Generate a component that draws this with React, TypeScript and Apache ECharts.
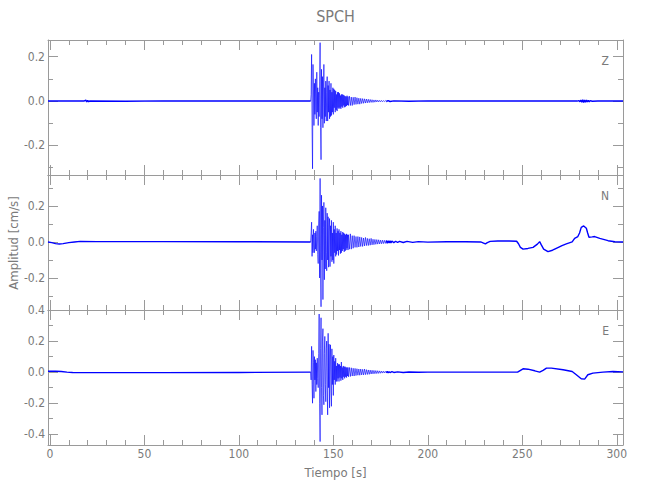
import React, { useEffect, useRef } from "react";
import * as echarts from "echarts";

// ---------- texts ----------
const TITLE = "SPCH";
const X_LABEL = "Tiempo [s]";
const Y_LABEL = "Amplitud [cm/s]";
const COMPONENTS = ["Z", "N", "E"];

// ---------- axis ranges ----------
const TIME_MIN = -1;
const TIME_MAX = 303.3;
const AMP_MIN = [-0.333, -0.378, -0.469];
const AMP_MAX = [0.275, 0.372, 0.4];
const AMP_SPLIT = [3, 4, 4];

// ---------- waveform data (cm/s) ----------
// strong-motion core sampled every 0.25 s from 138.0 s to 158.0 s
const CORE_START = 138.0;
const CORE_STEP = 0.25;
// coda sampled every 0.5 s from 158.5 s to 178.0 s
const CODA_START = 158.5;
const CODA_STEP = 0.5;

// Z component
const Z_PRE: [number, number][] = [
  [-1, 0.0], [5, 0.001], [18, 0.0], [19, 0.004], [19.5, -0.004], [20, 0.003], [20.5, -0.003],
  [21, 0.0], [40, -0.001], [60, 0.001], [80, 0.0], [100, 0.001], [120, 0.0], [138, 0.0],
];
const Z_CORE = [
  0.0, 0.03, 0.21, -0.12,
  -0.305, 0.165, 0.05, -0.11,
  0.08, -0.06, 0.1, -0.04,
  -0.08, 0.13, -0.05, 0.06,
  -0.11, 0.04, -0.07, 0.09,
  0.263, -0.12, -0.264, 0.143,
  -0.08, 0.11, -0.12, 0.05,
  0.165, -0.1, 0.06, -0.07,
  0.09, -0.09, 0.04, 0.11,
  -0.09, 0.07, -0.05, 0.09,
  -0.08, 0.05, -0.07, 0.08,
  -0.065, 0.04, -0.05, 0.06,
  -0.06, 0.055, -0.03, 0.05,
  -0.05, 0.045, -0.04, 0.03,
  -0.045, 0.04, -0.03, 0.04,
  -0.035, 0.035, -0.03, 0.025,
  -0.035, 0.03, -0.025, 0.03,
  -0.03, 0.028, -0.02, 0.025,
  -0.028, 0.022, -0.025, 0.02,
  -0.022, 0.024, -0.018, 0.02,
  -0.02,
];
const Z_CODA = [
  0.022, -0.02, 0.018, -0.02, 0.017, -0.016, 0.018, -0.015, 0.015, -0.014,
  0.013, -0.014, 0.012, -0.011, 0.011, -0.01, 0.01, -0.009, 0.009, -0.008,
  0.008, -0.007, 0.007, -0.006, 0.006, -0.006, 0.005, -0.005, 0.005, -0.004,
  0.004, -0.004, 0.003, -0.003, 0.003, -0.003, 0.002, -0.002, 0.002, -0.002,
];
const Z_POST: [number, number][] = [
  [178, -0.002], [179, 0.002], [180, -0.002], [182, 0.001], [190, -0.001], [200, 0.001], [230, 0.0],
  [260, 0.001], [279, 0.0], [280, 0.002], [280.5, -0.003], [281, 0.004], [281.5, -0.005],
  [282, 0.006], [282.5, -0.006], [283, 0.005], [283.5, -0.005], [284, 0.004], [284.5, -0.004],
  [285, 0.003], [285.5, -0.003], [286, 0.002], [287, -0.001], [290, 0.0], [303.3, 0.0],
];

// N component
const N_PRE: [number, number][] = [
  [-1, 0.0], [1, -0.004], [3, -0.009], [5, -0.011], [7, -0.009], [10, -0.004], [13, 0.0],
  [16, 0.003], [25, 0.002], [60, 0.002], [100, 0.001], [138, 0.0],
];
const N_CORE = [
  0.0, 0.05, 0.11, -0.08,
  0.04, -0.06, 0.07, -0.03,
  -0.06, 0.05, -0.04, 0.06,
  -0.05, 0.03, 0.09, -0.07,
  -0.12, 0.1, 0.17, -0.2,
  0.353, -0.15, -0.36, 0.26,
  -0.1, 0.2, -0.32, 0.08,
  0.22, -0.21, 0.12, -0.15,
  0.19, -0.06, -0.16, 0.16,
  -0.1, 0.14, -0.14, 0.06,
  0.13, -0.137, 0.09, -0.08,
  0.12, -0.11, 0.05, -0.1,
  0.11, -0.12, 0.07, -0.06,
  0.09, -0.08, 0.05, -0.07,
  0.075, -0.05, 0.06, -0.075,
  0.07, -0.045, 0.05, -0.065,
  0.06, -0.06, 0.04, -0.05,
  0.055, -0.04, 0.05, -0.055,
  0.045, -0.05, 0.04, -0.045,
  0.045, -0.035, 0.04, -0.045,
  0.04,
];
const N_CODA = [
  -0.04, 0.045, -0.04, 0.035, -0.035, 0.035, -0.03, 0.03, -0.03, 0.03,
  -0.028, 0.028, -0.025, 0.025, -0.025, 0.022, -0.022, 0.025, -0.02, 0.02,
  -0.02, 0.018, -0.018, 0.02, -0.016, 0.015, -0.015, 0.014, -0.013, 0.013,
  -0.012, 0.012, -0.011, 0.01, -0.01, 0.01, -0.009, 0.009, -0.008, 0.008,
];
const N_POST: [number, number][] = [
  [178, 0.008], [178.5, -0.007], [179, 0.007], [179.5, -0.006], [180, 0.006], [180.5, -0.005],
  [181, 0.005], [182, -0.004], [183, 0.004], [184, -0.003], [185, 0.003], [187, -0.003],
  [189, 0.003], [192, -0.002], [195, 0.002], [200, -0.001], [210, 0.001], [220, 0.001],
  [228, 0.0], [229.5, -0.006], [230.5, -0.011], [231.5, -0.004], [233, 0.003],
  [237, 0.005], [243, 0.005], [247, 0.004], [248, -0.01], [249, -0.03], [250.4, -0.04],
  [253, -0.036], [255.7, -0.03], [258, -0.012], [259.2, 0.002], [260, -0.015], [261.3, -0.04],
  [263.6, -0.054], [266, -0.046], [268, -0.035], [271, -0.02], [273.3, -0.011], [276.4, 0.0],
  [277.7, 0.02], [279.4, 0.03], [280.3, 0.05], [281.2, 0.081], [282.5, 0.089], [283.9, 0.076],
  [284.6, 0.05], [285.3, 0.026], [287, 0.028], [288.3, 0.03], [291, 0.02], [295.4, 0.007],
  [299, 0.001], [303.3, 0.0],
];

// E component
const E_PRE: [number, number][] = [
  [-1, 0.006], [3, 0.006], [6, 0.004], [9, 0.0], [12, -0.002], [20, -0.003], [60, -0.003],
  [100, -0.002], [138, 0.0],
];
const E_CORE = [
  0.0, -0.05, 0.166, -0.08,
  -0.2, 0.14, 0.06, -0.168,
  0.1, -0.05, 0.08, -0.125,
  0.06, -0.08, 0.09, -0.04,
  -0.1, 0.12, 0.374, -0.2,
  -0.447, 0.15, 0.35, -0.1,
  -0.275, 0.2, 0.28, -0.15,
  -0.21, 0.12, 0.23, -0.08,
  -0.19, 0.15, 0.2, -0.12,
  -0.275, 0.25, -0.1, 0.18,
  -0.23, 0.08, 0.176, -0.12,
  -0.22, 0.15, -0.08, 0.1,
  -0.15, 0.11, -0.05, 0.07,
  -0.08, 0.09, -0.06, 0.04,
  -0.06, 0.058, -0.04, 0.05,
  -0.06, 0.05, -0.035, 0.04,
  -0.055, 0.065, -0.04, 0.03,
  -0.05, 0.04, -0.03, 0.035,
  -0.04, 0.035, -0.03, 0.03,
  -0.035, 0.03, -0.025, 0.03,
  -0.03,
];
const E_CODA = [
  0.03, -0.028, 0.028, -0.025, 0.025, -0.025, 0.024, -0.022, 0.022, -0.02,
  0.02, -0.02, 0.02, -0.018, 0.018, -0.018, 0.02, -0.016, 0.016, -0.015,
  0.014, -0.014, 0.013, -0.012, 0.012, -0.011, 0.011, -0.01, 0.01, -0.009,
  0.009, -0.008, 0.008, -0.007, 0.007, -0.006, 0.006, -0.005, 0.005, -0.004,
];
const E_POST: [number, number][] = [
  [178, -0.004], [178.5, 0.004], [179, -0.004], [179.5, 0.003], [180, -0.003], [181, 0.003],
  [182, -0.002], [184, 0.002], [187, -0.002], [190, 0.001], [195, -0.001], [200, 0.0],
  [220, 0.0], [240, 0.0], [247.5, 0.0], [250.4, 0.0215], [253, 0.019],
  [256.6, 0.0086], [259.2, 0.0], [261, 0.011], [262.8, 0.026], [265.4, 0.026], [271.6, 0.015],
  [276.4, 0.004], [278.6, -0.017], [281.2, -0.043], [283, -0.045], [284.7, -0.017],
  [287.4, -0.006], [292.7, 0.0], [298, 0.004], [303.3, 0.002],
];

const PRE = [Z_PRE, N_PRE, E_PRE];
const CORE = [Z_CORE, N_CORE, E_CORE];
const CODA = [Z_CODA, N_CODA, E_CODA];
const POST = [Z_POST, N_POST, E_POST];

// ---------- layout & style ----------
const GRID_LEFT = 48;
const GRID_WIDTH = 575;
const PANEL_TOPS = [40, 175, 310];
const PANEL_H = 135;
const AXIS_GRAY = "#9a9a9a";
const TEXT_GRAY = "#7a7a7a";
const WAVE_BLUE = "#0000ff";
const FONT = "'Liberation Sans Narrow', 'DejaVu Sans Condensed', 'Noto Sans', sans-serif";

function strongMotion(i: number): [number, number][] {
  const out: [number, number][] = [];
  CORE[i].forEach((v, k) => out.push([CORE_START + k * CORE_STEP, v]));
  CODA[i].forEach((v, k) => out.push([CODA_START + k * CODA_STEP, v]));
  return out;
}

function fmtAmp(v: number): string {
  const q = v / 0.2;
  if (Math.abs(q - Math.round(q)) > 1e-6) return "";
  const r = Math.round(v * 10) / 10 + 0;
  return r.toFixed(1);
}

function buildOption() {
  const grid = PANEL_TOPS.map((top) => ({
    left: GRID_LEFT,
    width: GRID_WIDTH,
    top,
    height: PANEL_H,
    show: false,
  }));

  const xAxis: any[] = [];
  const yAxis: any[] = [];
  for (let i = 0; i < 3; i++) {
    for (const pos of ["bottom", "top"]) {
      xAxis.push({
        type: "value",
        gridIndex: i,
        position: pos,
        min: TIME_MIN,
        max: TIME_MAX,
        splitNumber: 6,
        axisLine: { show: true, onZero: false, lineStyle: { color: AXIS_GRAY, width: 1 } },
        axisTick: { show: true, inside: true, length: 10, lineStyle: { color: AXIS_GRAY } },
        minorTick: { show: true, splitNumber: 5, length: 5, lineStyle: { color: AXIS_GRAY } },
        splitLine: { show: false },
        axisLabel: {
          show: i === 2 && pos === "bottom",
          showMinLabel: false,
          showMaxLabel: false,
          margin: 3,
          color: TEXT_GRAY,
          fontSize: 12,
          fontFamily: FONT,
          formatter: (v: number) => (Math.abs(v % 50) < 1e-6 ? String(Math.round(v)) : ""),
        },
      });
    }
    for (const pos of ["left", "right"]) {
      yAxis.push({
        type: "value",
        gridIndex: i,
        position: pos,
        min: AMP_MIN[i],
        max: AMP_MAX[i],
        splitNumber: AMP_SPLIT[i],
        axisLine: { show: true, onZero: false, lineStyle: { color: AXIS_GRAY, width: 1 } },
        axisTick: { show: true, inside: true, length: 10, lineStyle: { color: AXIS_GRAY } },
        minorTick: { show: true, splitNumber: 2, length: 5, lineStyle: { color: AXIS_GRAY } },
        splitLine: { show: false },
        axisLabel: {
          show: pos === "left",
          showMinLabel: false,
          showMaxLabel: i === 2,
          margin: 3,
          color: TEXT_GRAY,
          fontSize: 12,
          fontFamily: FONT,
          formatter: fmtAmp,
        },
      });
    }
  }

  const series: any[] = [];
  for (let i = 0; i < 3; i++) {
    const common = {
      type: "line",
      xAxisIndex: 2 * i,
      yAxisIndex: 2 * i,
      showSymbol: false,
      symbol: "none",
      clip: true,
      silent: true,
    };
    series.push({ ...common, name: COMPONENTS[i] + " pre", data: PRE[i], lineStyle: { color: WAVE_BLUE, width: 1.4 } });
    series.push({ ...common, name: COMPONENTS[i], data: strongMotion(i), lineStyle: { color: WAVE_BLUE, width: 0.7, opacity: 0.9 } });
    series.push({ ...common, name: COMPONENTS[i] + " post", data: POST[i], lineStyle: { color: WAVE_BLUE, width: 1.4 } });
  }

  const compLabelY = [61, 196, 331];
  const graphic: any[] = [
    {
      type: "text",
      x: GRID_LEFT + GRID_WIDTH / 2,
      y: 16,
      style: { text: TITLE, fontSize: 16, fontFamily: FONT, fill: TEXT_GRAY, align: "center", verticalAlign: "middle" },
    },
    {
      type: "text",
      x: GRID_LEFT + GRID_WIDTH / 2,
      y: 472,
      style: { text: X_LABEL, fontSize: 13, fontFamily: FONT, fill: TEXT_GRAY, align: "center", verticalAlign: "middle" },
    },
    {
      type: "text",
      x: 13,
      y: 243,
      rotation: Math.PI / 2,
      style: { text: Y_LABEL, fontSize: 13, fontFamily: FONT, fill: TEXT_GRAY, align: "center", verticalAlign: "middle" },
    },
    ...COMPONENTS.map((c, i) => ({
      type: "text",
      x: 609,
      y: compLabelY[i],
      style: { text: c, fontSize: 12, fontFamily: FONT, fill: TEXT_GRAY, align: "right", verticalAlign: "middle" },
    })),
  ];

  return {
    animation: false,
    backgroundColor: "#ffffff",
    grid,
    xAxis,
    yAxis,
    series,
    graphic,
  };
}

export default function App() {
  const ref = useRef<HTMLDivElement>(null);
  useEffect(() => {
    if (!ref.current) return;
    const chart = echarts.init(ref.current, undefined, { renderer: "svg" });
    chart.setOption(buildOption() as any);
    return () => chart.dispose();
  }, []);
  return (
    <div
      ref={ref}
      style={{ position: "fixed", left: 0, top: 0, width: 650, height: 500, background: "#fff" }}
    />
  );
}
